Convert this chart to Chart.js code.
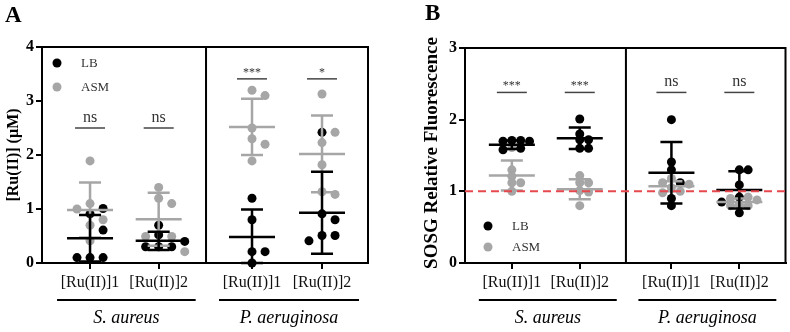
<!DOCTYPE html>
<html>
<head>
<meta charset="utf-8">
<script src="https://cdn.jsdelivr.net/npm/chart.js@4.4.1/dist/chart.umd.min.js"></script>
<style>
  body { margin: 0; background: #fff; }
  #wrap { position: relative; width: 790px; height: 332px; }
  canvas { position: absolute; top: 0; }
  #chartA { left: 0; }
  #chartB { left: 395px; }
</style>
</head>
<body>
<div id="wrap">
  <canvas id="chartA" width="395" height="332"></canvas>
  <canvas id="chartB" width="395" height="332"></canvas>
</div>
<script>
const categories = ['[Ru(II)]1', '[Ru(II)]2', '[Ru(II)]1', '[Ru(II)]2'];
const groups = ['S. aureus', 'P. aeruginosa'];
const seriesNames = ['LB', 'ASM'];

// Panel A - [Ru(II)] (µM), one list per column
const uptakeLB = [
  [1.01, 0.91, 0.61, 0.10, 0.10, 0.10],
  [0.70, 0.52, 0.40, 0.30, 0.30, 0.30],
  [1.20, 0.80, 0.21, 0.21, 0.00],
  [2.42, 0.91, 0.80, 0.51, 0.51, 0.41]
];
const uptakeASM = [
  [1.89, 1.10, 1.00, 0.80, 0.70, 0.41],
  [1.40, 1.20, 1.10, 0.49, 0.49, 0.21],
  [3.20, 3.10, 2.50, 2.30, 2.20, 1.89],
  [3.13, 2.42, 2.23, 1.82, 1.32, 1.27]
];
const uptakeLBMean = [0.46, 0.41, 0.48, 0.93];
const uptakeLBSd = [0.43, 0.17, 0.51, 0.76];
const uptakeASMMean = [0.98, 0.81, 2.52, 2.02];
const uptakeASMSd = [0.51, 0.49, 0.52, 0.71];
const uptakeSig = ['ns', 'ns', '***', '*'];
const uptakeSigLevel = [2.5, 2.5, 3.41, 3.41];
const uptakeTicks = [0, 1, 2, 3, 4];

// Panel B - SOSG relative fluorescence
const sosgLB = [
  [1.71, 1.71, 1.70, 1.70, 1.60, 1.58],
  [2.01, 1.80, 1.72, 1.72, 1.60, 1.60],
  [2.00, 1.41, 1.30, 1.12, 0.90, 0.80],
  [1.30, 1.30, 1.09, 0.92, 0.85, 0.70]
];
const sosgASM = [
  [1.61, 1.30, 1.21, 1.12, 1.12, 1.00],
  [1.22, 1.12, 1.12, 1.01, 0.99, 0.80],
  [1.18, 1.12, 1.10, 1.05, 1.00, 0.98],
  [0.92, 0.90, 0.88, 0.82, 0.80, 0.80]
];
const sosgLBMean = [1.65, 1.74, 1.26, 1.02];
const sosgLBSd = [0.06, 0.15, 0.43, 0.26];
const sosgASMMean = [1.22, 1.03, 1.07, 0.85];
const sosgASMSd = [0.21, 0.14, 0.07, 0.05];
const sosgSig = ['***', '***', 'ns', 'ns'];
const sosgSigLevel = [2.38, 2.38, 2.38, 2.38];
const sosgBaseline = 1;
const sosgTicks = [0, 1, 2, 3];

const BLACK = '#000000';
const GRAY = '#a6a6a6';
const SERIF = "'Liberation Serif', 'DejaVu Serif', serif";

// spread points of one column sideways so they don't sit on each other
function swarm(lists, gap) {
  const all = [];
  lists.forEach((vals, s) => vals.forEach((v, k) => all.push({ s, k, v })));
  all.sort((p, q) => q.v - p.v);
  const slots = [0, 1, -1, 2, -2, 3, -3];
  const placed = [];
  const out = lists.map(vals => vals.map(() => 0));
  all.forEach(p => {
    const sl = slots.find(c => !placed.some(o => o.sl === c && Math.abs(o.v - p.v) < gap));
    placed.push({ sl, v: p.v });
    out[p.s][p.k] = sl;
  });
  return out;
}

function makePanel(id, o) {
  const lbPts = [], asmPts = [];
  o.lb.forEach((vals, i) => {
    const off = swarm([o.lb[i], o.asm[i]], o.gap);
    o.lb[i].forEach((v, k) => lbPts.push({ x: o.pos[i] + off[0][k] * o.step, y: v }));
    o.asm[i].forEach((v, k) => asmPts.push({ x: o.pos[i] + off[1][k] * o.step, y: v }));
  });

  const deco = {
    id: 'deco' + o.letter,
    afterDatasetsDraw(chart) {
      const { ctx, scales: { x, y } } = chart;
      ctx.save();
      ctx.lineWidth = 2.5;
      [[o.asmMean, o.asmSd, GRAY], [o.lbMean, o.lbSd, BLACK]].forEach(([mean, sd, col]) => {
        ctx.strokeStyle = col;
        mean.forEach((m, i) => {
          const cx = x.getPixelForValue(o.pos[i]);
          const ym = y.getPixelForValue(m);
          const yh = y.getPixelForValue(m + sd[i]);
          const yl = y.getPixelForValue(Math.max(0, m - sd[i]));
          ctx.beginPath();
          ctx.moveTo(cx, yh); ctx.lineTo(cx, yl);
          ctx.moveTo(cx - 23, ym); ctx.lineTo(cx + 23, ym);
          ctx.moveTo(cx - 11, yh); ctx.lineTo(cx + 11, yh);
          ctx.moveTo(cx - 11, yl); ctx.lineTo(cx + 11, yl);
          ctx.stroke();
        });
      });
      ctx.restore();
    },
    afterDraw(chart) {
      const { ctx, chartArea: a, scales: { x, y } } = chart;
      ctx.save();
      // frame + separator
      ctx.strokeStyle = BLACK;
      ctx.lineWidth = 2;
      const sx = x.getPixelForValue(o.sep);
      ctx.beginPath();
      ctx.moveTo(a.left, a.top); ctx.lineTo(a.right, a.top); ctx.lineTo(a.right, a.bottom);
      ctx.moveTo(sx, a.top); ctx.lineTo(sx, a.bottom);
      ctx.stroke();

      // reference line
      if (o.baseline !== undefined) {
        ctx.strokeStyle = '#e5484d';
        ctx.setLineDash([8, 5]);
        ctx.beginPath();
        const by = y.getPixelForValue(o.baseline);
        ctx.moveTo(a.left, by); ctx.lineTo(a.right, by);
        ctx.stroke();
        ctx.setLineDash([]);
      }

      // significance
      ctx.strokeStyle = '#444';
      ctx.fillStyle = '#333';
      ctx.lineWidth = 1.5;
      ctx.textAlign = 'center';
      ctx.textBaseline = 'alphabetic';
      o.sig.forEach((s, i) => {
        const cx = x.getPixelForValue(o.pos[i]);
        const ly = y.getPixelForValue(o.sigLevel[i]);
        ctx.beginPath();
        ctx.moveTo(cx - 15, ly); ctx.lineTo(cx + 15, ly);
        ctx.stroke();
        if (s === 'ns') {
          ctx.font = '16px ' + SERIF;
          ctx.fillText(s, cx, ly - 6);
        } else {
          ctx.font = '12px ' + SERIF;
          ctx.fillText(s, cx, ly - 3);
        }
      });

      // group underlines and names
      ctx.strokeStyle = BLACK;
      ctx.fillStyle = BLACK;
      ctx.lineWidth = 2;
      ctx.font = 'italic 18px ' + SERIF;
      ctx.textBaseline = 'middle';
      groups.forEach((g, gi) => {
        const x0 = x.getPixelForValue(o.pos[gi * 2]) - 33;
        const x1 = x.getPixelForValue(o.pos[gi * 2 + 1]) + 37;
        ctx.beginPath();
        ctx.moveTo(x0, a.bottom + 37); ctx.lineTo(x1, a.bottom + 37);
        ctx.stroke();
        ctx.fillText(g, (x0 + x1) / 2, a.bottom + 55);
      });

      // legend
      ctx.font = '13px ' + SERIF;
      ctx.textAlign = 'left';
      [BLACK, GRAY].forEach((c, k) => {
        const ly = o.legendY(a) + k * o.legendGap;
        ctx.fillStyle = c;
        ctx.beginPath();
        ctx.arc(a.left + o.legendDx, ly, 4.5, 0, Math.PI * 2);
        ctx.fill();
        ctx.fillStyle = '#333';
        ctx.fillText(seriesNames[k], a.left + o.legendDx + 24, ly + 1);
      });

      // axis title
      ctx.fillStyle = BLACK;
      ctx.font = 'bold ' + o.titleSize + 'px ' + SERIF;
      ctx.textAlign = 'center';
      ctx.translate(a.left - o.titleDx, o.titleY);
      ctx.rotate(-Math.PI / 2);
      ctx.fillText(o.title, 0, 0);
      ctx.restore();

      // panel letter
      ctx.save();
      ctx.fillStyle = BLACK;
      ctx.font = 'bold 23px ' + SERIF;
      ctx.textAlign = 'left';
      ctx.textBaseline = 'alphabetic';
      ctx.fillText(o.letter, o.letterX, o.letterY);
      ctx.restore();
    }
  };

  new Chart(document.getElementById(id), {
    type: 'scatter',
    data: {
      datasets: [
        { label: seriesNames[0], data: lbPts, backgroundColor: BLACK, pointRadius: 4.5, borderWidth: 0, clip: false },
        { label: seriesNames[1], data: asmPts, backgroundColor: GRAY, pointRadius: 4.5, borderWidth: 0, clip: false }
      ]
    },
    options: {
      responsive: false,
      animation: false,
      devicePixelRatio: 1,
      events: [],
      layout: { padding: o.padding },
      plugins: { legend: { display: false }, tooltip: { enabled: false } },
      scales: {
        x: {
          type: 'linear',
          min: 0,
          max: o.xMax,
          afterBuildTicks: s => { s.ticks = o.pos.map(v => ({ value: v })); },
          afterFit: s => { s.height = 69; },
          ticks: {
            autoSkip: false,
            maxRotation: 0,
            padding: 4,
            color: '#111',
            font: { family: SERIF, size: 16 },
            callback: (v, i) => categories[i]
          },
          grid: { drawOnChartArea: false, tickLength: 6, color: BLACK, lineWidth: 2 },
          border: { color: BLACK, width: 2 }
        },
        y: {
          min: 0,
          max: o.yTicks[o.yTicks.length - 1],
          afterBuildTicks: s => { s.ticks = o.yTicks.map(v => ({ value: v })); },
          afterFit: s => { s.width = o.yWidth; },
          ticks: {
            padding: 2,
            color: BLACK,
            font: { family: SERIF, size: 16, weight: 'bold' }
          },
          grid: { drawOnChartArea: false, tickLength: 6, color: BLACK, lineWidth: 2 },
          border: { color: BLACK, width: 2 }
        }
      }
    },
    plugins: [deco]
  });
}

makePanel('chartA', {
  letter: 'A', letterX: 5, letterY: 22,
  lb: uptakeLB, asm: uptakeASM,
  lbMean: uptakeLBMean, lbSd: uptakeLBSd, asmMean: uptakeASMMean, asmSd: uptakeASMSd,
  sig: uptakeSig, sigLevel: uptakeSigLevel, yTicks: uptakeTicks,
  pos: [0.7, 1.7, 3.06, 4.08], sep: 2.39, xMax: 4.75,
  step: 0.19, gap: 0.15,
  padding: { left: 0, right: 27, top: 47, bottom: 0 }, yWidth: 42,
  title: '[Ru(II)] (\u00B5M)', titleSize: 16, titleDx: 28, titleY: 155,
  legendDx: 15, legendY: a => a.top + 16, legendGap: 24
});

makePanel('chartB', {
  letter: 'B', letterX: 30, letterY: 20,
  lb: sosgLB, asm: sosgASM,
  lbMean: sosgLBMean, lbSd: sosgLBSd, asmMean: sosgASMMean, asmSd: sosgASMSd,
  sig: sosgSig, sigLevel: sosgSigLevel, yTicks: sosgTicks, baseline: sosgBaseline,
  pos: [0.69, 1.69, 3.04, 4.04], sep: 2.37, xMax: 4.72,
  step: 0.13, gap: 0.08,
  padding: { left: 0, right: 4, top: 48, bottom: 0 }, yWidth: 70,
  title: 'SOSG Relative Fluorescence', titleSize: 19, titleDx: 33, titleY: 153,
  legendDx: 23, legendY: a => a.bottom - 37, legendGap: 21
});
</script>
</body>
</html>
